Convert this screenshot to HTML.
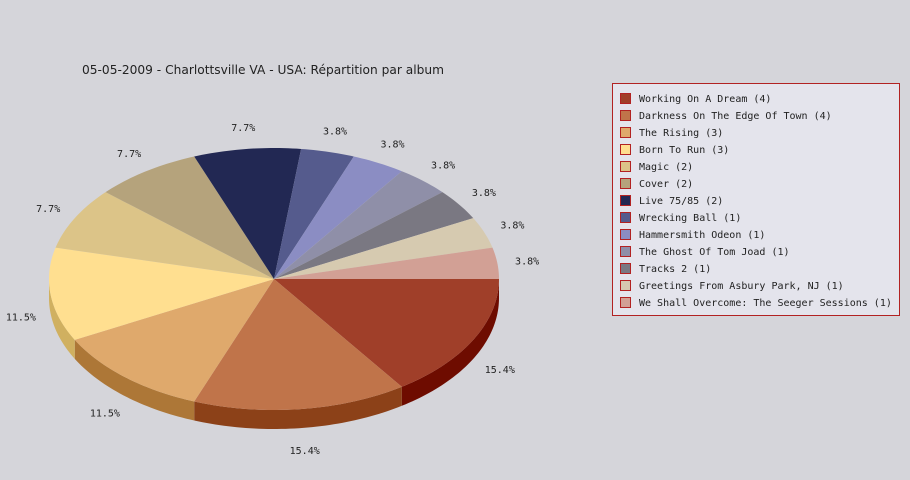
<!DOCTYPE html>
<html><head><meta charset="utf-8"><style>
html,body{margin:0;padding:0;background:#d5d5da;}
svg{display:block;}
</style></head><body>
<svg id="chart" width="910" height="480" xmlns="http://www.w3.org/2000/svg">
<rect width="910" height="480" fill="#d5d5da"/>
<text x="82" y="74" font-family="DejaVu Sans, Liberation Sans, sans-serif" font-size="12" fill="#222" textLength="362" lengthAdjust="spacingAndGlyphs">05-05-2009 - Charlottsville VA - USA:  Répartition par album</text>
<g id="sides"></g>
<g id="tops"></g>
<g id="labels"></g>
<rect x="612.5" y="83.5" width="287" height="232" fill="#e4e4ec" stroke="#b22222" stroke-width="1"/>
<g id="legend"></g>
</svg>
<script>
const categories = ["Working On A Dream","Darkness On The Edge Of Town","The Rising","Born To Run","Magic","Cover","Live 75/85","Wrecking Ball","Hammersmith Odeon ","The Ghost Of Tom Joad","Tracks 2","Greetings From Asbury Park, NJ","We Shall Overcome: The Seeger Sessions"];
const values = [4,4,3,3,2,2,2,1,1,1,1,1,1];
const colors = ["#a03f29","#c0744a","#dfa96c","#ffdf90","#dcc488","#b5a37c","#222853","#555b8d","#8b8dc3","#8f8fa8","#7a7882","#d6cab0","#d2a095"];
const sideColors = ["#6e0c00","#8c4118","#ad7737","#d0b060","#aa9258","#84724c","#000020","#25295b","#5a5b91","#5d5d76","#484650","#a4987e","#a06e63"];

const NS="http://www.w3.org/2000/svg";
const cx=274, cy=279, rx=225, ry=131, depth=19;
const total=values.reduce((a,b)=>a+b,0);
const sides=document.getElementById('sides'), tops=document.getElementById('tops'), labels=document.getElementById('labels'), legend=document.getElementById('legend');
function pt(a){return [cx+rx*Math.cos(a), cy+ry*Math.sin(a)];}
function arcPts(a1,a2,dy){let s=[];const n=Math.max(2,Math.ceil((a2-a1)/0.02));for(let i=0;i<=n;i++){const a=a1+(a2-a1)*i/n;const p=pt(a);s.push(p[0].toFixed(2)+","+(p[1]+dy).toFixed(2));}return s;}
let acc=0;
values.forEach((v,i)=>{
  const a1=acc/total*2*Math.PI; acc+=v; const a2=acc/total*2*Math.PI;
  // side
  const s1=Math.max(a1,0), s2=Math.min(a2,Math.PI);
  if(s2>s1){
    const top=arcPts(s1,s2,0), bot=arcPts(s1,s2,depth).reverse();
    const side=document.createElementNS(NS,'polygon');
    side.setAttribute('points',top.concat(bot).join(' '));
    side.setAttribute('fill',sideColors[i]);
    
    
    sides.appendChild(side);
  }
  const poly=document.createElementNS(NS,'polygon');
  poly.setAttribute('points',[cx+","+cy].concat(arcPts(a1,a2,0)).join(' '));
  poly.setAttribute('fill',colors[i]);
  
  
  tops.appendChild(poly);
  const m=(a1+a2)/2, c=Math.cos(m), sn=Math.sin(m);
  const lx=cx+(rx+30)*c, ly=cy+(ry+22)*sn+(sn>0?depth:0);
  const t=document.createElementNS(NS,'text');
  t.setAttribute('x',lx.toFixed(1)); t.setAttribute('y',(ly+4).toFixed(1));
  t.setAttribute('text-anchor','middle');
  t.setAttribute('font-family','DejaVu Sans Mono, Liberation Mono, monospace');
  t.setAttribute('font-size','10'); t.setAttribute('fill','#222');
  t.textContent=(v/total*100).toFixed(1)+"%";
  
  
  labels.appendChild(t);
  const y0=93+i*17;
  const sw=document.createElementNS(NS,'rect');
  sw.setAttribute('x','620.5'); sw.setAttribute('y',(y0+0.5)); sw.setAttribute('width','10'); sw.setAttribute('height','10');
  sw.setAttribute('fill',colors[i]); sw.setAttribute('stroke','#b22222');
  
  
  legend.appendChild(sw);
  const lt=document.createElementNS(NS,'text');
  lt.setAttribute('x','639'); lt.setAttribute('y',(y0+9));
  lt.setAttribute('font-family','DejaVu Sans Mono, Liberation Mono, monospace');
  lt.setAttribute('font-size','10'); lt.setAttribute('fill','#222');
  lt.setAttribute('xml:space','preserve');
  lt.textContent=categories[i]+" ("+v+")";
  
  
  legend.appendChild(lt);
});
</script>
</body></html>
